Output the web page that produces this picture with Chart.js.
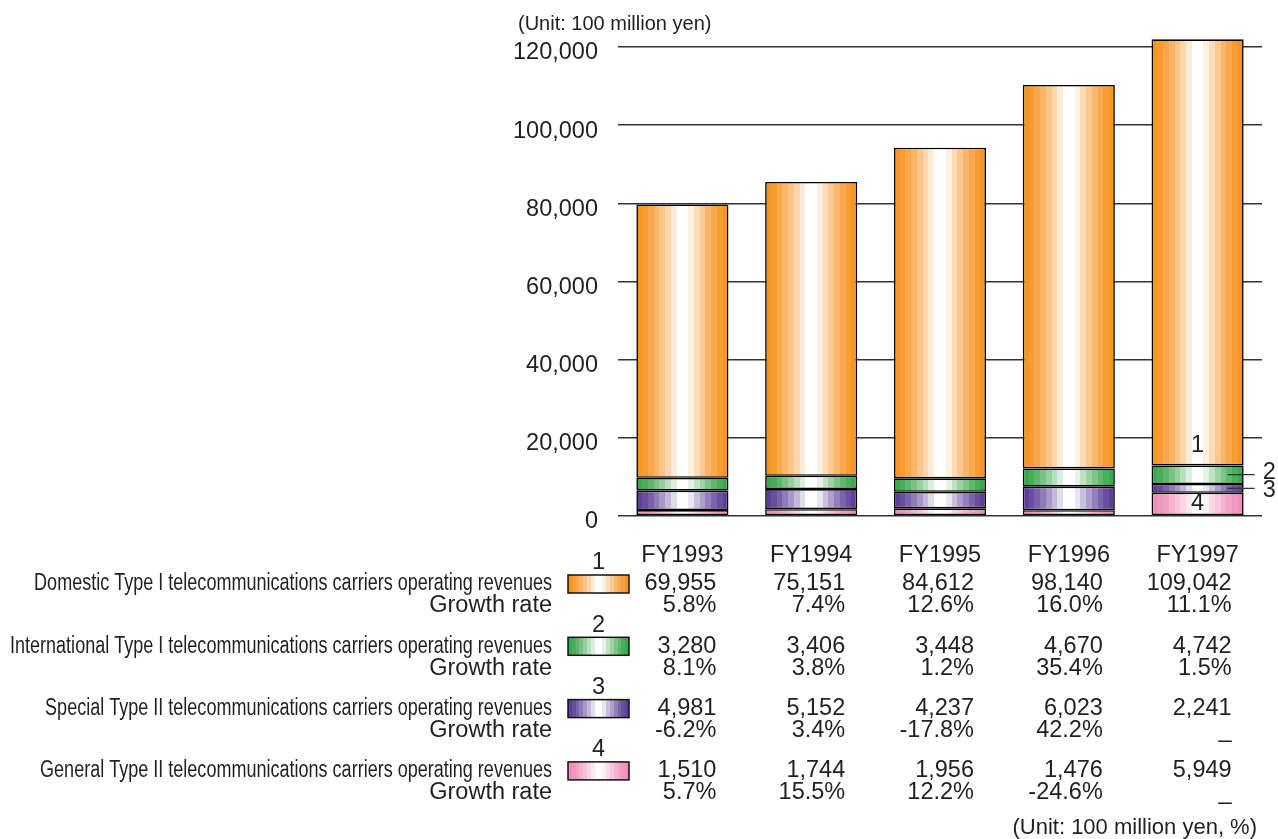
<!DOCTYPE html>
<html>
<head>
<meta charset="utf-8">
<script src="https://cdn.jsdelivr.net/npm/chart.js@4.4.1/dist/chart.umd.min.js"></script>
<style>
  html, body { margin: 0; padding: 0; background: #fff; }
  #wrap { width: 1278px; height: 839px; }
</style>
</head>
<body>
<div id="wrap"><canvas id="graficaIngresos" width="1278" height="839"></canvas></div>
<script>
// datos
var categories = ["FY1993", "FY1994", "FY1995", "FY1996", "FY1997"];

var domestic = [69955, 75151, 84612, 98140, 109042];
var international = [3280, 3406, 3448, 4670, 4742];
var special = [4981, 5152, 4237, 6023, 2241];
var general = [1510, 1744, 1956, 1476, 5949];

var domesticGrowth = ["5.8%", "7.4%", "12.6%", "16.0%", "11.1%"];
var internationalGrowth = ["8.1%", "3.8%", "1.2%", "35.4%", "1.5%"];
var specialGrowth = ["-6.2%", "3.4%", "-17.8%", "42.2%", "_"];
var generalGrowth = ["5.7%", "15.5%", "12.2%", "-24.6%", "_"];

var seriesNames = [
    "Domestic Type I telecommunications carriers operating revenues",
    "International Type I telecommunications carriers operating revenues",
    "Special Type II telecommunications carriers operating revenues",
    "General Type II telecommunications carriers operating revenues"
];
var seriesNumbers = ["1", "2", "3", "4"];
var growthLabel = "Growth rate";
var unitTop = "(Unit: 100 million yen)";
var unitBottom = "(Unit: 100 million yen, %)";

var yMax = 120000;
var yStep = 20000;

// estilo
var FAMILY = "'Liberation Sans', Arial, Helvetica, sans-serif";
var TEXT = "#231f20";
var BAR_PCT = 0.715;
var ORANGE = [247, 146, 30];
var GREEN = [55, 166, 72];
var PURPLE = [90, 60, 150];
var PINK = [240, 140, 186];

function stripeGradient(ctx, x0, x1, rgb) {
    var g = ctx.createLinearGradient(x0, 0, x1, 0);
    var n = 16;
    var c = 0.51;
    for (var i = 0; i < n; i++) {
        var p = (i + 0.5) / n;
        var d = p < c ? (c - p) / c : (p - c) / (1 - c);
        var w = Math.min(1, Math.pow(1 - d, 1.5) * 1.15);
        var r = Math.round(rgb[0] + (255 - rgb[0]) * w);
        var gg = Math.round(rgb[1] + (255 - rgb[1]) * w);
        var b = Math.round(rgb[2] + (255 - rgb[2]) * w);
        var col = "rgb(" + r + "," + gg + "," + b + ")";
        g.addColorStop(i / n, col);
        g.addColorStop((i + 1) / n - 0.0001, col);
    }
    g.addColorStop(1, "rgb(" + rgb.join(",") + ")");
    return g;
}

function barFill(rgb) {
    return function (context) {
        var chart = context.chart;
        var xs = chart.scales.x;
        var plain = "rgb(" + rgb.join(",") + ")";
        if (!xs || context.dataIndex === undefined) {
            return plain;
        }
        var cx = xs.getPixelForValue(context.dataIndex);
        var w = (xs.width / categories.length) * BAR_PCT;
        if (!isFinite(cx) || !isFinite(w) || w <= 0) {
            return plain;
        }
        return stripeGradient(chart.ctx, cx - w / 2, cx + w / 2, rgb);
    };
}

function fmt(v) {
    return v.toLocaleString("en-US");
}

var tablaPlugin = {
    id: "tabla",
    afterDraw: function (chart) {
        var ctx = chart.ctx;
        var xs = chart.scales.x;
        var last = categories.length - 1;
        ctx.save();
        ctx.fillStyle = TEXT;
        ctx.strokeStyle = "#000";

        // unidad arriba
        ctx.font = "20px " + FAMILY;
        ctx.textAlign = "left";
        ctx.textBaseline = "middle";
        ctx.fillText(unitTop, 518, 24);

        // numeros sobre la barra FY1997
        ctx.font = "23.5px " + FAMILY;
        var eDom = chart.getDatasetMeta(3).data[last];
        var eInt = chart.getDatasetMeta(2).data[last];
        var eSpe = chart.getDatasetMeta(1).data[last];
        var eGen = chart.getDatasetMeta(0).data[last];
        var right = eDom.x + eDom.width / 2;
        ctx.textAlign = "center";
        ctx.fillText(seriesNumbers[0], eDom.x, eDom.base - 20);
        ctx.fillText(seriesNumbers[3], eGen.x, (eGen.y + eGen.base) / 2);
        var yInt = (eInt.y + eInt.base) / 2;
        var ySpe = (eSpe.y + eSpe.base) / 2;
        ctx.lineWidth = 1.3;
        ctx.strokeStyle = "#333";
        ctx.beginPath();
        ctx.moveTo(right - 16, yInt); ctx.lineTo(right + 11, yInt);
        ctx.moveTo(right - 16, ySpe); ctx.lineTo(right + 11, ySpe);
        ctx.stroke();
        ctx.textAlign = "left";
        ctx.fillText(seriesNumbers[1], right + 19, yInt - 2);
        ctx.fillText(seriesNumbers[2], right + 19, ySpe + 2);

        // tabla
        var rows = [
            { values: domestic, growth: domesticGrowth, rgb: ORANGE },
            { values: international, growth: internationalGrowth, rgb: GREEN },
            { values: special, growth: specialGrowth, rgb: PURPLE },
            { values: general, growth: generalGrowth, rgb: PINK }
        ];
        ctx.font = "23.5px " + FAMILY;
        var sx = 542 / ctx.measureText(seriesNames[1]).width;
        for (var k = 0; k < rows.length; k++) {
            var y = 584 + k * 62.3;
            var row = rows[k];

            ctx.textAlign = "center";
            ctx.fillText(seriesNumbers[k], 598.5, y - 21);

            ctx.save();
            ctx.translate(552, y);
            ctx.scale(sx, 1);
            ctx.textAlign = "right";
            ctx.fillText(seriesNames[k], 0, 0);
            ctx.restore();
            ctx.textAlign = "right";
            ctx.fillText(growthLabel, 552, y + 22);

            ctx.fillStyle = stripeGradient(ctx, 568, 629, row.rgb);
            ctx.fillRect(568, y - 9, 61, 18);
            ctx.lineWidth = 1.5;
            ctx.strokeStyle = "#111";
            ctx.strokeRect(568, y - 9, 61, 18);
            ctx.fillStyle = TEXT;

            for (var i = 0; i < categories.length; i++) {
                var xr = xs.getPixelForValue(i) + 34;
                ctx.fillText(fmt(row.values[i]), xr, y);
                ctx.fillText(row.growth[i], xr, y + 22);
            }
        }

        ctx.font = "22px " + FAMILY;
        ctx.textAlign = "right";
        ctx.fillText(unitBottom, 1257, 828);
        ctx.restore();
    }
};

function dataset(label, data, rgb) {
    return {
        label: label,
        data: data,
        backgroundColor: barFill(rgb),
        borderColor: "#000",
        borderWidth: 1.6,
        borderSkipped: false,
        clip: false,
        barPercentage: BAR_PCT,
        categoryPercentage: 1
    };
}

Chart.defaults.font.family = FAMILY;
Chart.defaults.color = TEXT;

var grafica = new Chart(document.getElementById("graficaIngresos"), {
    type: "bar",
    data: {
        labels: categories,
        datasets: [
            dataset(seriesNames[3], general, PINK),
            dataset(seriesNames[2], special, PURPLE),
            dataset(seriesNames[1], international, GREEN),
            dataset(seriesNames[0], domestic, ORANGE)
        ]
    },
    options: {
        responsive: false,
        devicePixelRatio: 1,
        animation: false,
        layout: { padding: { top: 47, right: 16, bottom: 0, left: 0 } },
        plugins: {
            legend: { display: false },
            tooltip: { enabled: false }
        },
        scales: {
            x: {
                stacked: true,
                grid: { display: false },
                border: { display: false },
                ticks: {
                    font: { size: 23.5 },
                    color: TEXT,
                    padding: 17
                },
                afterFit: function (scale) { scale.height = 323; }
            },
            y: {
                stacked: true,
                min: 0,
                max: yMax,
                grid: { color: "#333", lineWidth: 1.6, drawTicks: false },
                border: { display: false },
                ticks: {
                    stepSize: yStep,
                    font: { size: 23.5 },
                    color: TEXT,
                    padding: 20,
                    labelOffset: 6,
                    callback: function (v) { return fmt(v); }
                },
                afterFit: function (scale) { scale.width = 618; }
            }
        }
    },
    plugins: [tablaPlugin]
});
grafica.update();
</script>
</body>
</html>
